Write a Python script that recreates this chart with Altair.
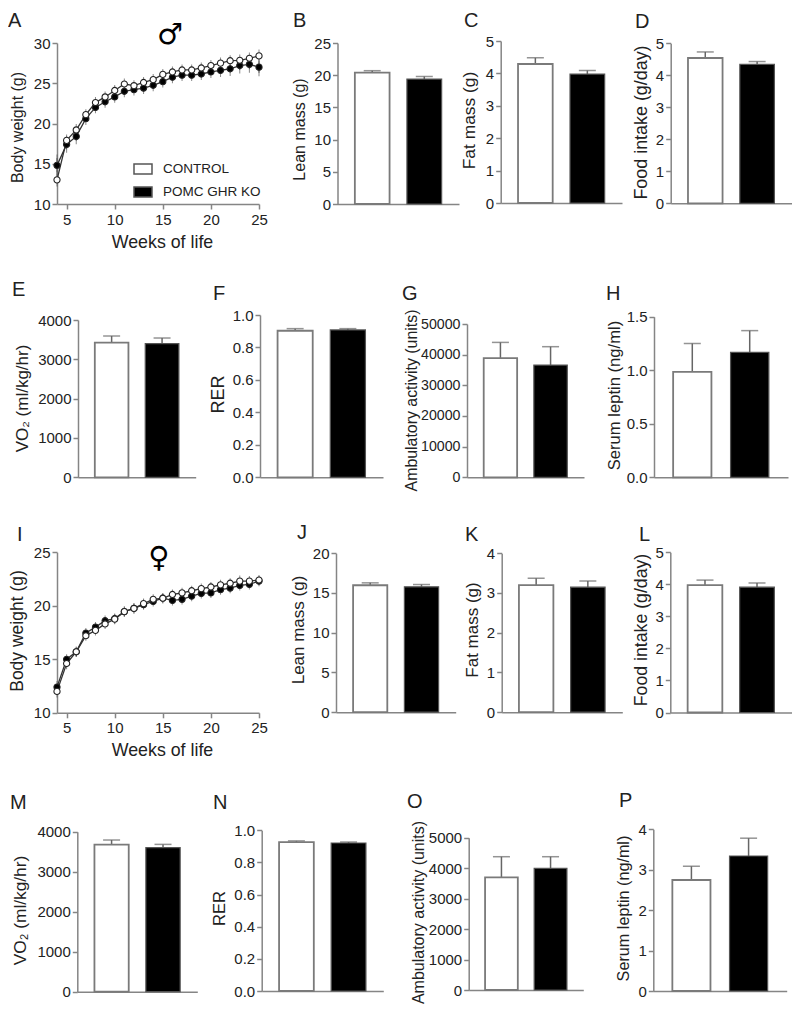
import altair as alt
import pandas as pd

# ---------- values ----------
WEEKS = list(range(4, 26))
A_CONTROL = [13.0,17.9,19.2,21.1,22.6,23.3,24.1,24.9,24.7,25.1,25.45,26.1,26.4,26.65,26.65,26.9,27.2,27.5,27.8,27.85,28.1,28.4]
A_CONTROL_ERR = [0.4,0.3,0.3,0.25,0.25,0.25,0.25,0.25,0.25,0.25,0.25,0.25,0.25,0.25,0.25,0.25,0.25,0.25,0.25,0.3,0.3,0.35]
A_KO = [14.8,17.4,18.4,20.6,22.0,22.7,23.3,24.0,24.2,24.4,24.75,25.2,25.75,26.0,26.0,26.15,26.4,26.6,26.8,27.2,27.35,27.0]
A_KO_ERR = [0.9,0.6,0.55,0.35,0.3,0.3,0.3,0.3,0.3,0.3,0.3,0.3,0.3,0.3,0.3,0.3,0.3,0.4,0.45,0.55,0.6,0.7]
I_CONTROL = [12.0,14.6,15.7,17.2,17.7,18.3,18.75,19.45,19.75,20.2,20.6,20.7,21.05,21.2,21.4,21.6,21.75,21.95,22.1,22.3,22.3,22.4]
I_CONTROL_ERR = [0.25,0.2,0.15,0.15,0.15,0.15,0.15,0.15,0.15,0.15,0.15,0.15,0.15,0.15,0.15,0.15,0.15,0.15,0.15,0.2,0.15,0.15]
I_KO = [12.4,15.0,15.7,17.45,18.0,18.6,18.8,19.45,19.75,20.1,20.4,20.7,20.5,20.6,20.9,21.15,21.2,21.5,21.65,21.9,22.0,22.3]
I_KO_ERR = [0.25,0.15,0.15,0.15,0.15,0.15,0.15,0.15,0.15,0.15,0.15,0.15,0.15,0.15,0.15,0.15,0.15,0.15,0.15,0.15,0.15,0.15]

GROUPS = ["CONTROL", "POMC GHR KO"]
LEAN_M = [20.4, 19.4];    LEAN_M_TOP = [20.7, 19.8]
FAT_M = [4.29, 3.98];     FAT_M_TOP = [4.48, 4.09]
FOOD_M = [4.54, 4.34];    FOOD_M_TOP = [4.73, 4.43]
VO2_M = [3424, 3398];     VO2_M_TOP = [3593, 3542]
RER_M = [0.903, 0.908];   RER_M_TOP = [0.916, 0.916]
AMB_M = [38900, 36600];   AMB_M_TOP = [44000, 42600]
LEP_M = [0.984, 1.168];   LEP_M_TOP = [1.25, 1.37]
LEAN_F = [15.97, 15.77];  LEAN_F_TOP = [16.27, 16.06]
FAT_F = [3.195, 3.145];   FAT_F_TOP = [3.37, 3.30]
FOOD_F = [3.97, 3.91];    FOOD_F_TOP = [4.13, 4.04]
VO2_F = [3675, 3600];     VO2_F_TOP = [3792, 3683]
RER_F = [0.927, 0.921];   RER_F_TOP = [0.934, 0.927]
AMB_F = [3698, 3993];     AMB_F_TOP = [4376, 4376]
LEP_F = [2.746, 3.34];    LEP_F_TOP = [3.085, 3.78]

# ---------- page layout (image pixels) ----------
ROW_TOP = [8, 204, 477.5, 712]
ROW_BOT = [204, 477.5, 712, 990]
COL_LEFT = [8, 260, 467, 653]
COL_W = [252, 207, 186, 139]
FONT = "Liberation Sans"
AXC = "#858585"
TXT = "#222222"
BARS = "#7a7a7a"
TITLE_DY = 23

def yaxis(title, values, fmt, tx, ty, tfs, lfs, d):
    return alt.Axis(title=title, values=values, format=fmt, domainColor=AXC, domainWidth=1.5,
                    tickColor=AXC, tickWidth=1.5, tickSize=5, labelFontSize=lfs, labelColor=TXT,
                    labelFont=FONT, labelPadding=2, labelOverlap=False, grid=False, titleFont=FONT, titleFontSize=tfs,
                    titleFontWeight="normal", titleColor=TXT, titleX=tx, titleY=ty, titleBaseline="middle",
                    titleAlign="center", titleAngle=270, titleLimit=400, offset=-d)

def letter(text, dx, dy):
    return alt.TitleParams(text=text, anchor="start", frame="group", orient="top", offset=0, dx=dx, dy=dy + TITLE_DY,
                           baseline="alphabetic", font=FONT, fontSize=20, fontWeight="normal", color=TXT)

def bar_panel(row, col, name, lx, lb, x0, x1, top, bot, ymax, ticks, fmt, title, tx, tcy, tfs, lfs, means, tops):
    rt = ROW_TOP[row]; h = ROW_BOT[row] - rt
    d = x0 - COL_LEFT[col]
    df = pd.DataFrame({"group": GROUPS, "mean": means, "top": tops})
    xs = alt.Scale(domain=GROUPS, range=[d, x1 - COL_LEFT[col]], paddingInner=1/3, paddingOuter=1/3)
    ys = alt.Scale(domain=[0, ymax], range=[bot - rt, top - rt], nice=False, zero=True)
    xe = alt.X("group:N", sort=GROUPS, scale=xs,
               axis=alt.Axis(labels=False, ticks=False, title=None, domainColor=AXC, domainWidth=1.5,
                             offset=bot - ROW_BOT[row]))
    ax = yaxis(title, ticks, fmt, tx, tcy - rt, tfs, lfs, d)
    ye = alt.Y("mean:Q", scale=ys, axis=ax)
    base = alt.Chart(df)
    err = base.mark_rule(color="#666666", strokeWidth=1.5).encode(x=xe, y=ye, y2="top:Q")
    cap = base.mark_tick(color="#666666", thickness=1.5, size=17).encode(x=xe, y=alt.Y("top:Q", scale=ys, axis=ax))
    bar_c = alt.Chart(df[df.group == GROUPS[0]]).mark_bar(fill="white", stroke=BARS, strokeWidth=1.8).encode(x=xe, y=ye)
    bar_k = alt.Chart(df[df.group == GROUPS[1]]).mark_bar(fill="black", stroke="#555555", strokeWidth=1.2).encode(x=xe, y=ye)
    return alt.layer(err, cap, bar_c, bar_k).properties(
        width=COL_W[col], height=h, title=letter(name, lx - COL_LEFT[col], lb - rt))

def line_panel(row, name, lx, lb, x0, x1, top, bot, ymin, ymax, ticks, control, control_err, ko, ko_err,
               tcy, tfs, xtfs, sym, sym_x, sym_y, sym_fs, legend):
    rt = ROW_TOP[row]; h = ROW_BOT[row] - rt
    d = x0 - COL_LEFT[0]
    dfc = pd.DataFrame({"week": WEEKS, "bw": control, "lo": [a - b for a, b in zip(control, control_err)],
                        "hi": [a + b for a, b in zip(control, control_err)], "group": GROUPS[0]})
    dfk = pd.DataFrame({"week": WEEKS, "bw": ko, "lo": [a - b for a, b in zip(ko, ko_err)],
                        "hi": [a + b for a, b in zip(ko, ko_err)], "group": GROUPS[1]})
    xs = alt.Scale(domain=[4, 25], range=[d, x1 - COL_LEFT[0]], nice=False, zero=False)
    ys = alt.Scale(domain=[ymin, ymax], range=[bot - rt, top - rt], nice=False, zero=False)
    xe = alt.X("week:Q", scale=xs, axis=alt.Axis(values=[5, 10, 15, 20, 25], format="d", title="Weeks of life", domainColor=AXC,
               domainWidth=1.5, tickColor=AXC, tickWidth=1.5, tickSize=5, labelFontSize=15, labelColor=TXT,
               labelFont=FONT, labelPadding=3, grid=False, titleFont=FONT, titleFontSize=xtfs, titleFontWeight="normal",
               titleColor=TXT, titleX=162 - COL_LEFT[0], titleY=43, titleBaseline="alphabetic", titleAlign="center",
               offset=bot - ROW_BOT[row], labelFlush=False))
    ax = yaxis("Body weight (g)", ticks, "d", -39.5, tcy - rt, tfs, 15, d)
    ye = alt.Y("bw:Q", scale=ys, axis=ax)
    lo = alt.Y("lo:Q", scale=ys, axis=ax)
    hi = alt.Y("hi:Q", scale=ys, axis=ax)
    layers = []
    for dd in (dfk, dfc):
        b = alt.Chart(dd)
        layers.append(b.mark_rule(color="#555555", strokeWidth=1).encode(x=xe, y=lo, y2="hi:Q"))
        layers.append(b.mark_tick(color="#555555", thickness=1, size=7).encode(x=xe, y=lo))
        layers.append(b.mark_tick(color="#555555", thickness=1, size=7).encode(x=xe, y=hi))
        layers.append(b.mark_line(color="#333333", strokeWidth=1.3).encode(x=xe, y=ye, order="week:Q"))
    for dd, c in ((dfk, "black"), (dfc, "white")):
        b = alt.Chart(dd)
        if legend:
            f = alt.Fill("group:N", scale=alt.Scale(domain=GROUPS, range=["white", "black"]),
                         legend=alt.Legend(title=None, orient="none", legendX=125, legendY=151,
                                           symbolType="M-1,-0.55H1V0.55H-1Z", symbolSize=324,
                                           symbolStrokeColor="#555555", symbolStrokeWidth=1.5,
                                           labelFont=FONT, labelFontSize=13.5, labelColor=TXT,
                                           labelOffset=10, rowPadding=5, padding=0))
            layers.append(b.mark_circle(stroke="#222222", strokeWidth=1.1, size=38, opacity=1).encode(x=xe, y=ye, fill=f))
        else:
            layers.append(b.mark_circle(stroke="#222222", strokeWidth=1.1, size=38, opacity=1, fill=c).encode(x=xe, y=ye))
    sd = pd.DataFrame({"week": [sym_x], "bw": [sym_y], "s": [sym]})
    layers.append(alt.Chart(sd).mark_text(font="DejaVu Sans", fontSize=sym_fs, fontWeight="bold", color="black").encode(
        x=xe, y=ye, text="s:N"))
    return alt.layer(*layers).properties(width=COL_W[0], height=h, title=letter(name, lx - COL_LEFT[0], lb - rt))

cells = [
    line_panel(0, "A", 8, 24, 57, 259, 43, 204, 10, 30, [10, 15, 20, 25, 30], A_CONTROL, A_CONTROL_ERR, A_KO, A_KO_ERR,
               127, 16, 17.8, "\u2642", 15.75, 31.0, 29, True),
    bar_panel(0, 1, "B", 293, 24, 337.5, 459, 43, 204, 25, [0, 5, 10, 15, 20, 25], "d", "Lean mass (g)", -38.5, 129, 16, 15, LEAN_M, LEAN_M_TOP),
    bar_panel(0, 2, "C", 464, 24, 500.7, 622, 41, 203, 5, [0, 1, 2, 3, 4, 5], "d", "Fat mass (g)", -31, 120, 17.4, 15, FAT_M, FAT_M_TOP),
    bar_panel(0, 3, "D", 635, 25, 670.7, 791.7, 43.3, 203.3, 5, [0, 1, 2, 3, 4, 5], "d", "Food intake (g/day)", -29, 122, 17.9, 15, FOOD_M, FOOD_M_TOP),

    bar_panel(1, 0, "E", 12, 293, 78, 195.7, 320, 477.3, 4000, [0, 1000, 2000, 3000, 4000], "d", "VO\u2082 (ml/kg/hr)", -56, 398, 17, 15, VO2_M, VO2_M_TOP),
    bar_panel(1, 1, "F", 213, 297, 260, 383, 315, 477.3, 1.0, [0, 0.2, 0.4, 0.6, 0.8, 1.0], ".1f", "RER", -42, 394, 18, 15, RER_M, RER_M_TOP),
    bar_panel(1, 2, "G", 402, 297, 467, 584, 324, 477.3, 50000, [0, 10000, 20000, 30000, 40000, 50000], "d", "Ambulatory activity (units)", -56, 400, 15.9, 14.2, AMB_M, AMB_M_TOP),
    bar_panel(1, 3, "H", 606, 297, 654, 788, 316.7, 477.3, 1.5, [0, 0.5, 1.0, 1.5], ".1f", "Serum leptin (ng/ml)", -40, 395, 16.6, 15, LEP_M, LEP_M_TOP),

    line_panel(2, "I", 17, 537, 57, 259, 551.7, 712.3, 10, 25, [10, 15, 20, 25], I_CONTROL, I_CONTROL_ERR, I_KO, I_KO_ERR,
               630, 17.5, 17.8, "\u2640", 14.6, 24.44, 29, False),
    bar_panel(2, 1, "J", 297, 535, 336, 455.7, 552.7, 711.7, 20, [0, 5, 10, 15, 20], "d", "Lean mass (g)", -38, 629, 17, 15, LEAN_F, LEAN_F_TOP),
    bar_panel(2, 2, "K", 465, 537, 501.7, 622.3, 552.7, 711.7, 4, [0, 1, 2, 3, 4], "d", "Fat mass (g)", -29, 629, 17, 15, FAT_F, FAT_F_TOP),
    bar_panel(2, 3, "L", 639, 537, 670.3, 791.7, 551.7, 712, 5, [0, 1, 2, 3, 4, 5], "d", "Food intake (g/day)", -29, 629, 17.7, 15, FOOD_F, FOOD_F_TOP),

    bar_panel(3, 0, "M", 10, 805, 77.3, 197.3, 830.7, 990.7, 4000, [0, 1000, 2000, 3000, 4000], "d", "VO\u2082 (ml/kg/hr)", -57, 909, 17.3, 15, VO2_F, VO2_F_TOP),
    bar_panel(3, 1, "N", 213, 805, 261.7, 383.3, 829.3, 990, 1.0, [0, 0.2, 0.4, 0.6, 0.8, 1.0], ".1f", "RER", -42, 907, 16.5, 15, RER_F, RER_F_TOP),
    bar_panel(3, 2, "O", 407, 804, 468.7, 583.3, 836.7, 989, 5000, [0, 1000, 2000, 3000, 4000, 5000], "d", "Ambulatory activity (units)", -50, 911, 16, 15, AMB_F, AMB_F_TOP),
    bar_panel(3, 3, "P", 619, 803, 653.3, 786.7, 828.3, 990, 4, [0, 1, 2, 3, 4], "d", "Serum leptin (ng/ml)", -30, 907, 16.2, 15, LEP_F, LEP_F_TOP),
]

chart = alt.concat(*cells, columns=4, spacing=0, bounds="flush").properties(
    padding=0, background="white"
).configure_view(strokeWidth=0)

chart.save("out.html", embed_options={"renderer": "svg", "actions": False})
